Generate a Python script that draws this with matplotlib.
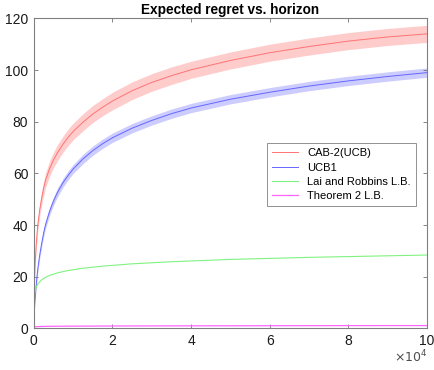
import numpy as np
import matplotlib
matplotlib.use('Agg')
import matplotlib.pyplot as plt

plt.rcParams['font.family'] = ['Liberation Sans', 'DejaVu Sans']

# horizon (number of rounds)
horizon = [0, 50, 100, 200, 300, 500, 700, 1000, 1500, 2000, 2500, 3000, 4000, 5000,
           6000, 7500, 9000, 10000, 12500, 15000, 17500, 20000, 25000, 30000, 35000,
           40000, 50000, 60000, 70000, 80000, 90000, 100000]

cab2 = [0, 10, 14, 20, 24, 30, 34.5, 40, 46, 50.5, 54.3, 57.5, 61.8, 65.2,
        68, 71.5, 74.5, 76.2, 79.8, 83, 85.6, 88, 92, 95.2, 97.8,
        100.1, 103.7, 106.7, 109.1, 111.2, 112.8, 114]
cab2_sd = [0, 0.6, 1.0, 1.3, 1.5, 1.8, 2.0, 2.2, 2.4, 2.6, 2.7, 2.8, 3.0, 3.0,
           3.1, 3.1, 3.2, 3.2, 3.3, 3.3, 3.3, 3.4, 3.4, 3.4, 3.4,
           3.3, 3.3, 3.3, 3.3, 3.3, 3.3, 3.3]

ucb1 = [0, 4, 6, 9, 11, 15, 18.5, 23, 28.5, 33, 37, 40.3, 45.3, 49.3,
        52.6, 56.6, 59.8, 61.7, 65.6, 68.8, 71.5, 73.8, 77.5, 80.5, 83.1,
        85.3, 88.7, 91.4, 93.8, 95.8, 97.5, 99]
ucb1_sd = [0, 0.3, 0.5, 0.7, 0.8, 1.0, 1.1, 1.2, 1.3, 1.4, 1.5, 1.5, 1.6, 1.6,
           1.7, 1.7, 1.7, 1.7, 1.8, 1.8, 1.8, 1.8, 1.8, 1.8, 1.8,
           1.8, 1.8, 1.8, 1.8, 1.8, 1.8, 1.8]

lai_robbins = [0, 9.7, 11.4, 13.1, 14.1, 15.3, 16.2, 17.1, 18.1, 18.8, 19.3, 19.8, 20.5, 21,
               21.5, 22, 22.5, 22.7, 23.3, 23.7, 24.1, 24.4, 25, 25.4, 25.8,
               26.1, 26.7, 27.1, 27.5, 27.8, 28.1, 28.4]

thm2 = [0, 0.45, 0.5, 0.55, 0.6, 0.65, 0.68, 0.7, 0.72, 0.75, 0.77, 0.78, 0.8, 0.82,
        0.84, 0.85, 0.87, 0.88, 0.89, 0.9, 0.92, 0.93, 0.95, 0.97, 0.98,
        1.0, 1.02, 1.04, 1.06, 1.08, 1.09, 1.1]

x = np.array(horizon) / 1e4
fig = plt.figure(figsize=(4.34, 3.70), dpi=100)
ax = fig.add_axes([0.078, 0.1124, 0.906, 0.838])

r = np.array(cab2); rs = np.array(cab2_sd)
b = np.array(ucb1); bs = np.array(ucb1_sd)
ax.fill_between(x, r - rs, r + rs, color=(1, 0.8, 0.8), lw=0)
ax.fill_between(x, b - bs, b + bs, color=(0.8, 0.8, 1), lw=0)
ax.plot(x, r, color=(1, 0.45, 0.45), lw=0.7, label='CAB-2(UCB)')
ax.plot(x, b, color=(0.4, 0.4, 1), lw=0.7, label='UCB1')
ax.plot(x, lai_robbins, color=(0.5, 0.95, 0.5), lw=0.8, label='Lai and Robbins L.B.')
ax.plot(x, thm2, color=(1, 0.4, 1), lw=0.9, label='Theorem 2 L.B.')

ax.set_xlim(0, 10)
ax.set_ylim(0, 120)
ax.set_xticks(np.arange(0, 11, 2))
ax.set_yticks(np.arange(0, 121, 20))
ax.text(1.0, -0.108, r'$\times10^{4}$', transform=ax.transAxes, ha='right', va='baseline',
        fontsize=9, color='0.3')

ax.tick_params(direction='in', top=True, right=True, labelsize=10, length=3,
               color='0.45', labelcolor='0.1', width=0.6, pad=4)
for s in ax.spines.values():
    s.set_color('0.5')
    s.set_linewidth(0.8)

ax.set_title('Expected regret vs. horizon', fontsize=9.8, fontweight='bold', pad=3)

leg = ax.legend(loc='upper left', bbox_to_anchor=(0.592, 0.597), borderaxespad=0,
                fontsize=8, frameon=True, fancybox=False, edgecolor='0.5', framealpha=1,
                handlelength=2.4, handletextpad=0.8, borderpad=0.45, labelspacing=0.38)
leg.get_frame().set_linewidth(0.6)

fig.savefig('out.png', dpi=100)
